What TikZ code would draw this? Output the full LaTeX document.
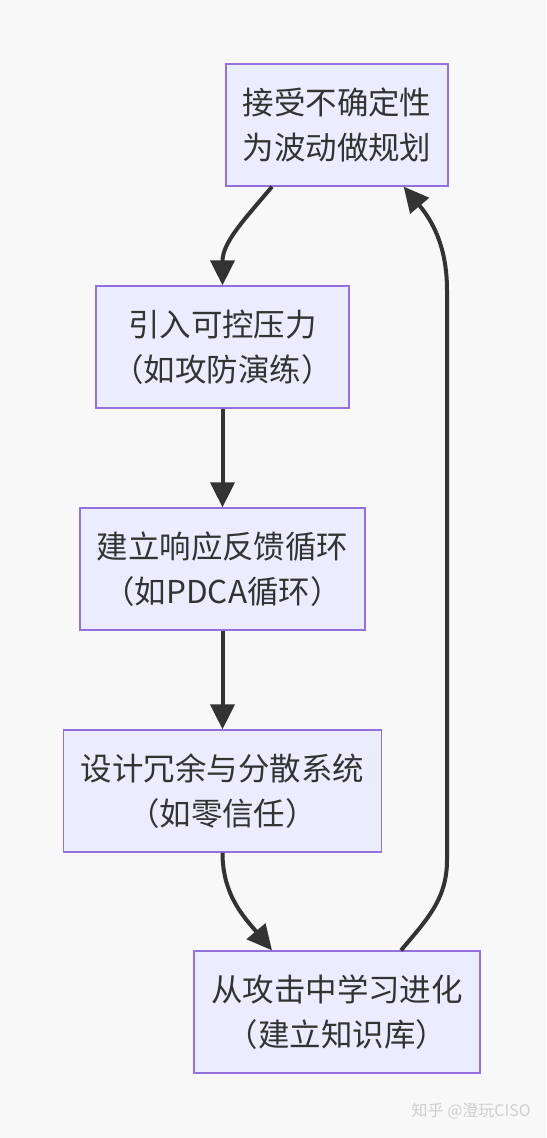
\documentclass[tikz,border=0pt]{standalone}
\usepackage{fontspec}
\setmainfont{Noto Sans CJK SC}
\usetikzlibrary{arrows.meta}
\definecolor{bgc}{HTML}{F8F8F8}
\definecolor{boxfill}{HTML}{ECECFF}
\definecolor{boxdraw}{HTML}{9370DB}
\definecolor{ink}{HTML}{333333}
\definecolor{wmc}{HTML}{CFCFCF}
\begin{document}
\begin{tikzpicture}[x=0.75pt,y=-0.75pt,
  box/.style={draw=boxdraw, fill=boxfill, line width=1pt, text=ink, align=center,
    minimum height=91.5pt, inner sep=0pt, font=\fontsize{23.6pt}{33.75pt}\selectfont},
  arr/.style={draw=ink, line width=3pt, -{Triangle[length=18.75pt,width=18pt]}}]
\useasboundingbox (0,0) rectangle (546,1138);
\fill[bgc] (0,0) rectangle (546,1138);
\node[box, minimum width=166.5pt] (n1) at (337,125) {接受不确定性\\为波动做规划};
\node[box, minimum width=189.75pt] (n2) at (222.5,347) {引入可控压力\\（如攻防演练）};
\node[box, minimum width=213.75pt] (n3) at (222.5,569) {建立响应反馈循环\\（如PDCA循环）};
\node[box, minimum width=238.5pt] (n4) at (222.5,791) {设计冗余与分散系统\\（如零信任）};
\node[box, minimum width=214.5pt] (n5) at (337,1012) {从攻击中学习进化\\（建立知识库）};
\coordinate (a1) at ([xshift=-48.75pt]n1.south);
\coordinate (a5) at ([xshift=-48.75pt]n5.north);
\coordinate (b5) at ([xshift=48pt]n5.north);
\coordinate (b1) at ([xshift=50pt]n1.south);
\coordinate (r1) at (447,860);
\coordinate (r2) at (447,290);
\draw[arr] (a1) to[out=-130,in=90] (n2.north);
\draw[arr] (n2) -- (n3);
\draw[arr] (n3) -- (n4);
\draw[arr] (n4.south) to[out=-90,in=130] (a5);
\draw[arr] (b5) to[out=50,in=-90] (r1) -- (r2) to[out=90,in=-50] (b1);
\node[text=wmc, font=\fontsize{12pt}{14pt}\selectfont, anchor=east, inner sep=0pt] (wm) at (531,1111) {知乎 @澄玩CISO};
\end{tikzpicture}
\end{document}
